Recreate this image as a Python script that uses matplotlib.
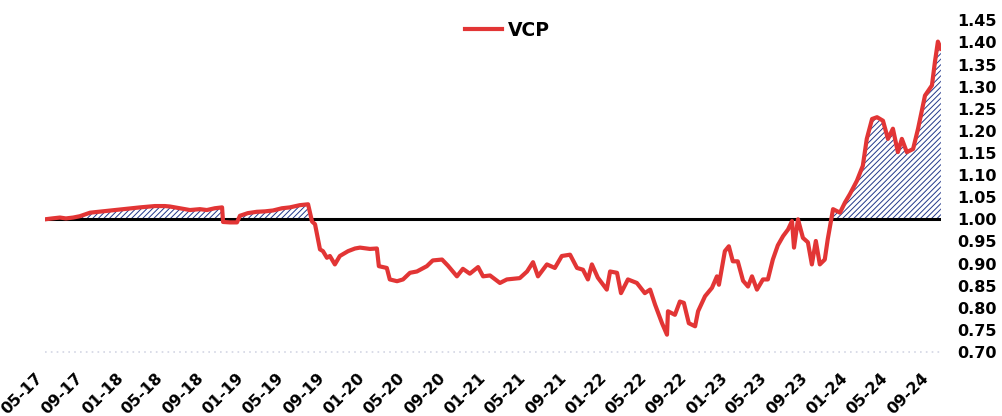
import matplotlib
matplotlib.use('Agg')
import matplotlib.pyplot as plt
import matplotlib.dates as mdates
from matplotlib.ticker import FormatStrFormatter
import numpy as np
import pandas as pd

plt.rcParams['font.family'] = ['DejaVu Sans']
plt.rcParams['hatch.linewidth'] = 0.7

# VCP values
vcp_dates = [
    '2017-05-01', '2017-05-22', '2017-06-15', '2017-07-03', '2017-07-25', '2017-08-14',
    '2017-09-14', '2017-11-04', '2017-12-22', '2018-02-12', '2018-03-29', '2018-04-28',
    '2018-05-13', '2018-06-13', '2018-07-13', '2018-08-12', '2018-09-02', '2018-09-26',
    '2018-10-18', '2018-10-21', '2018-11-11', '2018-12-02', '2018-12-11', '2019-01-04',
    '2019-01-31', '2019-02-25', '2019-03-21', '2019-04-17', '2019-05-11', '2019-06-10',
    '2019-07-05', '2019-07-17', '2019-07-26', '2019-08-04', '2019-08-10', '2019-08-19',
    '2019-08-31', '2019-09-09', '2019-09-24', '2019-10-09', '2019-11-03', '2019-11-24',
    '2019-12-09', '2020-01-08', '2020-01-29', '2020-02-04', '2020-02-28', '2020-03-08',
    '2020-03-30', '2020-04-17', '2020-05-08', '2020-05-29', '2020-06-28', '2020-07-16',
    '2020-08-13', '2020-08-31', '2020-09-27', '2020-10-15', '2020-11-05', '2020-11-30',
    '2020-12-15', '2021-01-05', '2021-02-04', '2021-02-25', '2021-04-05', '2021-04-27',
    '2021-05-15', '2021-05-30', '2021-06-26', '2021-07-20', '2021-08-10', '2021-09-04',
    '2021-09-25', '2021-10-13', '2021-10-28', '2021-11-09', '2021-11-27', '2021-12-24',
    '2022-01-03', '2022-01-24', '2022-02-05', '2022-02-26', '2022-03-25', '2022-04-18',
    '2022-05-04', '2022-05-19', '2022-06-09', '2022-06-24', '2022-06-27', '2022-07-18',
    '2022-08-02', '2022-08-14', '2022-08-29', '2022-09-17', '2022-09-26', '2022-10-17',
    '2022-11-07', '2022-11-22', '2022-11-28', '2022-12-16', '2022-12-28', '2023-01-09',
    '2023-01-24', '2023-02-09', '2023-02-24', '2023-03-08', '2023-03-23', '2023-04-10',
    '2023-04-25', '2023-05-10', '2023-05-25', '2023-06-10', '2023-06-25', '2023-07-07',
    '2023-07-13', '2023-07-25', '2023-08-09', '2023-08-24', '2023-09-05', '2023-09-17',
    '2023-09-29', '2023-10-14', '2023-10-23', '2023-10-30', '2023-11-08', '2023-11-29',
    '2023-12-14', '2023-12-29', '2024-01-19', '2024-02-06', '2024-02-18', '2024-03-05',
    '2024-03-20', '2024-04-07', '2024-04-22', '2024-05-07', '2024-05-22', '2024-06-03',
    '2024-06-18', '2024-07-07', '2024-07-22', '2024-08-12', '2024-09-02', '2024-09-11',
    '2024-09-20', '2024-09-29',
]
vcp_values = [
    1.000, 1.002, 1.004, 1.002, 1.004, 1.007,
    1.015, 1.019, 1.023, 1.027, 1.030, 1.030,
    1.029, 1.025, 1.021, 1.023, 1.021, 1.025,
    1.027, 0.994, 0.993, 0.993, 1.008, 1.014,
    1.017, 1.018, 1.020, 1.025, 1.027, 1.032,
    1.034, 0.995, 0.989, 0.955, 0.932, 0.928,
    0.913, 0.917, 0.898, 0.917, 0.928, 0.934,
    0.936, 0.933, 0.934, 0.894, 0.890, 0.864,
    0.860, 0.864, 0.879, 0.882, 0.894, 0.907,
    0.909, 0.895, 0.871, 0.888, 0.877, 0.892,
    0.871, 0.873, 0.856, 0.864, 0.867, 0.882,
    0.903, 0.871, 0.898, 0.890, 0.917, 0.920,
    0.890, 0.886, 0.864, 0.898, 0.868, 0.841,
    0.882, 0.879, 0.833, 0.864, 0.856, 0.833,
    0.841, 0.807, 0.765, 0.739, 0.792, 0.784,
    0.814, 0.811, 0.765, 0.758, 0.792, 0.826,
    0.845, 0.871, 0.852, 0.928, 0.939, 0.905,
    0.905, 0.861, 0.848, 0.871, 0.841, 0.864,
    0.864, 0.909, 0.941, 0.962, 0.977, 0.996,
    0.936, 1.000, 0.958, 0.948, 0.898, 0.951,
    0.898, 0.909, 0.955, 0.985, 1.023, 1.015,
    1.038, 1.057, 1.087, 1.121, 1.182, 1.227,
    1.231, 1.223, 1.182, 1.205, 1.152, 1.182,
    1.152, 1.159, 1.205, 1.280, 1.303, 1.356,
    1.402, 1.386,
]
baseline = 1.0
y_ticks = [0.70, 0.75, 0.80, 0.85, 0.90, 0.95, 1.00, 1.05,
           1.10, 1.15, 1.20, 1.25, 1.30, 1.35, 1.40, 1.45]

x = pd.to_datetime(vcp_dates)
y = np.array(vcp_values)

fig = plt.figure(figsize=(10.02, 4.16), dpi=100)
ax = fig.add_axes([0.045, 0.154, 0.894, 0.797])

# hatched area above the 1.00 line
ax.fill_between(x, baseline, y, where=y >= baseline, interpolate=True,
                facecolor='white', edgecolor='#22388a', hatch='//////',
                linewidth=0, zorder=1)
ax.axhline(baseline, color='black', lw=2.2, zorder=2)
ax.axhline(0.70, color='#d3d6e4', lw=1.2, ls=(0, (1, 2.5)), zorder=0, clip_on=False)
ax.plot(x, y, color='#E23535', lw=3, label='VCP', zorder=3, solid_joinstyle='round')

ax.set_xlim(x[0], x[-1])
ax.set_ylim(0.70, 1.45)

ax.yaxis.tick_right()
ax.set_yticks(y_ticks)
ax.yaxis.set_major_formatter(FormatStrFormatter('%.2f'))
ax.tick_params(axis='y', length=0, pad=12, labelsize=11.5)

ax.xaxis.set_major_locator(mdates.MonthLocator(bymonth=[1, 5, 9]))
ax.xaxis.set_major_formatter(mdates.DateFormatter('%m-%y'))
ax.tick_params(axis='x', length=0, pad=13, labelsize=11.5)

for lbl in ax.get_xticklabels() + ax.get_yticklabels():
    lbl.set_fontweight('bold')
plt.setp(ax.get_xticklabels(), rotation=45, ha='right')

for s in ax.spines.values():
    s.set_visible(False)

ax.legend(loc='center', bbox_to_anchor=(0.516, 0.97), frameon=False,
          prop={'weight': 'bold', 'size': 13.5}, handlelength=2.0,
          handletextpad=0.3)

fig.savefig('out.png', dpi=100)
